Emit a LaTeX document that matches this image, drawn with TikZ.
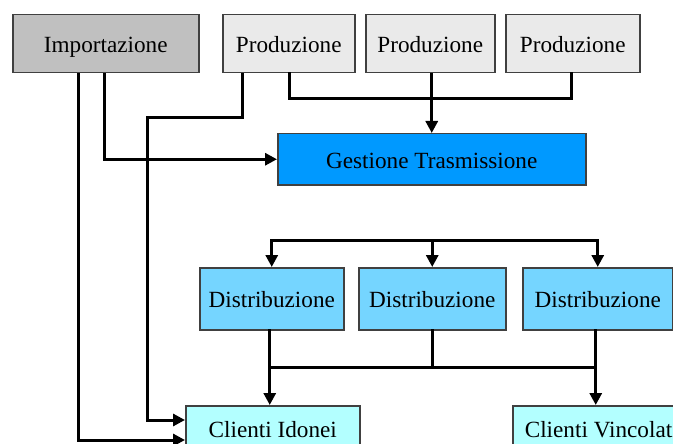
\documentclass[tikz,border=0pt]{standalone}
\usepackage{fontspec}
\setmainfont{Liberation Serif}
\usepackage{xcolor}
\usetikzlibrary{arrows.meta}
\usetikzlibrary{calc}

\definecolor{impgray}{HTML}{C0C0C0}
\definecolor{prodgray}{HTML}{EAEAEA}
\definecolor{trasblue}{HTML}{0099FF}
\definecolor{distblue}{HTML}{75D5FF}
\definecolor{clicyan}{HTML}{B3FFFF}
\definecolor{boxline}{HTML}{404040}

\begin{document}
\begin{tikzpicture}[x=1pt,y=-1pt]
\tikzstyle{every node}=[font=\fontsize{23.2}{28}\selectfont]
\tikzstyle{box}=[draw=boxline, line width=1.5pt, anchor=north west, inner sep=0pt, align=center, text height=18pt, text depth=0pt]
\tikzstyle{link}=[line width=3pt, line cap=rect]
\tikzstyle{arrow}=[line width=3pt, -{Triangle[length=12pt,width=12pt]}]
\clip (0,0) rectangle (673,444);
% sources
\node [box, fill=impgray, minimum width=186pt, minimum height=58pt] (imp) at (12,14) {Importazione};
\node [box, fill=prodgray, minimum width=132pt, minimum height=58pt] (prodA) at (222,14) {Produzione};
\node [box, fill=prodgray, minimum width=129pt, minimum height=58pt] (prodB) at (365,14) {Produzione};
\node [box, fill=prodgray, minimum width=134pt, minimum height=58pt] (prodC) at (505,14) {Produzione};
% transmission
\node [box, fill=trasblue, minimum width=308pt, minimum height=51pt] (tras) at (277,133) {Gestione Trasmissione};
% distribution
\node [box, fill=distblue, minimum width=144pt, minimum height=62pt] (distA) at (199,267) {Distribuzione};
\node [box, fill=distblue, minimum width=147pt, minimum height=62pt] (distB) at (358,267) {Distribuzione};
\node [box, fill=distblue, minimum width=150pt, minimum height=62pt] (distC) at (522,267) {Distribuzione};
% clients
\node [box, fill=clicyan, minimum width=174pt, minimum height=46pt] (idonei) at (185,405) {Clienti Idonei};
\node [box, fill=clicyan, minimum width=178pt, minimum height=46pt] (vincol) at (512,405) {Clienti Vincolati};
\coordinate (disttop) at ($(tras.south)+(0,55)$);
\coordinate (distbot) at ($(distA.south)+(0,37)$);
% importazione
\draw [arrow] ($(imp.south west)+(66,0)$) |- ($(idonei.north west)+(0,35)$);
\draw [arrow] ($(imp.south west)+(92,0)$) |- (tras.west);
% produzione
\draw [arrow] ($(prodA.south west)+(20,0)$) -- ++(0,44) -- ++(-95,0) |- ($(idonei.north west)+(0,15)$);
\draw [link] ($(prodA.south west)+(67,0)$) -- ++(0,25) -| ($(prodC.south west)+(66,0)$);
\draw [arrow] (tras.north |- prodB.south) -- (tras.north);
% distribuzione
\draw [link] (disttop -| distA.north) -- (disttop -| distC.north);
\draw [arrow] (disttop -| distA.north) -- (distA.north);
\draw [arrow] (disttop -| distB.north) -- (distB.north);
\draw [arrow] (disttop -| distC.north) -- (distC.north);
\draw [link] ($(distA.south)+(-2,0)$) |- ($(distC.south |- distbot)+(-2,0)$) -- ($(distC.south)+(-2,0)$);
\draw [link] (distB.south) -- (distB.south |- distbot);
\draw [arrow] ($(distA.south |- distbot)+(-2,0)$) -- ($(distA.south |- idonei.north)+(-2,0)$);
\draw [arrow] ($(distC.south |- distbot)+(-2,0)$) -- ($(distC.south |- vincol.north)+(-2,0)$);
\end{tikzpicture}
\end{document}
